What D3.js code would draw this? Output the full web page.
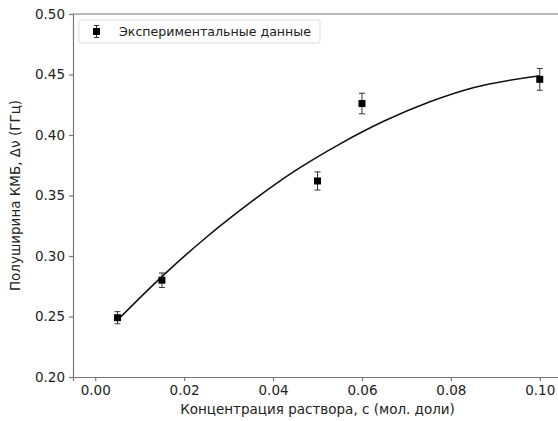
<!DOCTYPE html>
<html>
<head>
<meta charset="utf-8">
<script src="https://cdn.jsdelivr.net/npm/d3@7"></script>
<style>
  body { margin: 0; background: #fff; }
  text { font-family: "DejaVu Sans", sans-serif; fill: #222; }
</style>
</head>
<body>
<div id="chart"></div>
<script>
const conc = [0.005, 0.015, 0.05, 0.06, 0.1];
const width_ghz = [0.249, 0.280, 0.362, 0.426, 0.446];
const errs = [0.005, 0.006, 0.0075, 0.0085, 0.009];

// fit curve
const fitX = [0.005, 0.015, 0.025, 0.035, 0.045, 0.055, 0.065, 0.075, 0.085, 0.1];
const fitY = [0.247, 0.283, 0.3155, 0.3445, 0.3705, 0.3925, 0.4115, 0.427, 0.439, 0.449];

const xTicks = [0, 0.02, 0.04, 0.06, 0.08, 0.1];
const yTicks = [0.2, 0.25, 0.3, 0.35, 0.4, 0.45, 0.5];

const W = 558, H = 421;
const margin = { top: 14, right: -4, bottom: 44, left: 73 };
const width = W - margin.left - margin.right,
  height = H - margin.top - margin.bottom;

const svg = d3
  .select("#chart")
  .append("svg")
  .attr("width", W)
  .attr("height", H)
  .append("g")
  .attr("transform", `translate(${margin.left},${margin.top})`);

const x = d3.scaleLinear().domain([-0.005, 0.105]).range([0, width]);
const y = d3.scaleLinear().domain([0.2, 0.5]).range([height, 0]);

const axisColor = "#777";

const xAxis = svg
  .append("g")
  .attr("transform", `translate(0,${height})`)
  .call(d3.axisBottom(x).tickValues(xTicks).tickFormat(d3.format(".2f")).tickSize(4).tickPadding(4));
const yAxis = svg
  .append("g")
  .call(d3.axisLeft(y).tickValues(yTicks).tickFormat(d3.format(".2f")).tickSize(4).tickPadding(4));

[xAxis, yAxis].forEach((a) => {
  a.selectAll("path, line").attr("stroke", axisColor).attr("stroke-width", 1.2);
  a.selectAll("text").style("font-size", "13.5px").style("font-family", "DejaVu Sans").attr("fill", "#222");
});

// top and right spines
svg.append("line").attr("x1", 0).attr("x2", width).attr("y1", 0).attr("y2", 0)
  .attr("stroke", axisColor).attr("stroke-width", 1.2);
svg.append("line").attr("x1", width).attr("x2", width).attr("y1", 0).attr("y2", height)
  .attr("stroke", axisColor).attr("stroke-width", 1.2);

const line = d3
  .line()
  .x((d, i) => x(fitX[i]))
  .y((d) => y(d))
  .curve(d3.curveMonotoneX);

svg.append("path")
  .datum(fitY)
  .attr("d", line)
  .attr("fill", "none")
  .attr("stroke", "#111")
  .attr("stroke-width", 1.6);

const pts = conc.map((c, i) => ({ c, v: width_ghz[i], e: errs[i] }));
const cap = 3;
const g = svg.selectAll(".pt").data(pts).enter().append("g").attr("class", "pt");
g.append("line")
  .attr("x1", (d) => x(d.c)).attr("x2", (d) => x(d.c))
  .attr("y1", (d) => y(d.v - d.e)).attr("y2", (d) => y(d.v + d.e))
  .attr("stroke", "#333").attr("stroke-width", 1);
[-1, 1].forEach((s) => {
  g.append("line")
    .attr("x1", (d) => x(d.c) - cap).attr("x2", (d) => x(d.c) + cap)
    .attr("y1", (d) => y(d.v + s * d.e)).attr("y2", (d) => y(d.v + s * d.e))
    .attr("stroke", "#333").attr("stroke-width", 1);
});
g.append("rect")
  .attr("x", (d) => x(d.c) - 3.5).attr("y", (d) => y(d.v) - 3.5)
  .attr("width", 7).attr("height", 7)
  .attr("fill", "#000");

// legend
const legend = svg.append("g").attr("transform", "translate(6,6)");
legend.append("rect")
  .attr("width", 241).attr("height", 23).attr("rx", 2)
  .attr("fill", "#fff").attr("stroke", "#ddd");
legend.append("line").attr("x1", 17.5).attr("x2", 17.5).attr("y1", 5.5).attr("y2", 17.5)
  .attr("stroke", "#333");
legend.append("line").attr("x1", 15).attr("x2", 20).attr("y1", 5.5).attr("y2", 5.5).attr("stroke", "#333");
legend.append("line").attr("x1", 15).attr("x2", 20).attr("y1", 17.5).attr("y2", 17.5).attr("stroke", "#333");
legend.append("rect").attr("x", 14).attr("y", 8).attr("width", 7).attr("height", 7).attr("fill", "#000");
legend.append("text")
  .attr("x", 40).attr("y", 15.8)
  .style("font-size", "12.6px")
  .text("Экспериментальные данные");

svg.append("text")
  .attr("x", x(0.05)).attr("y", height + 37)
  .attr("text-anchor", "middle")
  .style("font-size", "13.5px")
  .text("Концентрация раствора, c (мол. доли)");

svg.append("text")
  .attr("transform", `translate(-53,${height / 2}) rotate(-90)`)
  .attr("text-anchor", "middle")
  .style("font-size", "13.5px")
  .text("Полуширина КМБ, Δν (ГГц)");
</script>
</body>
</html>
